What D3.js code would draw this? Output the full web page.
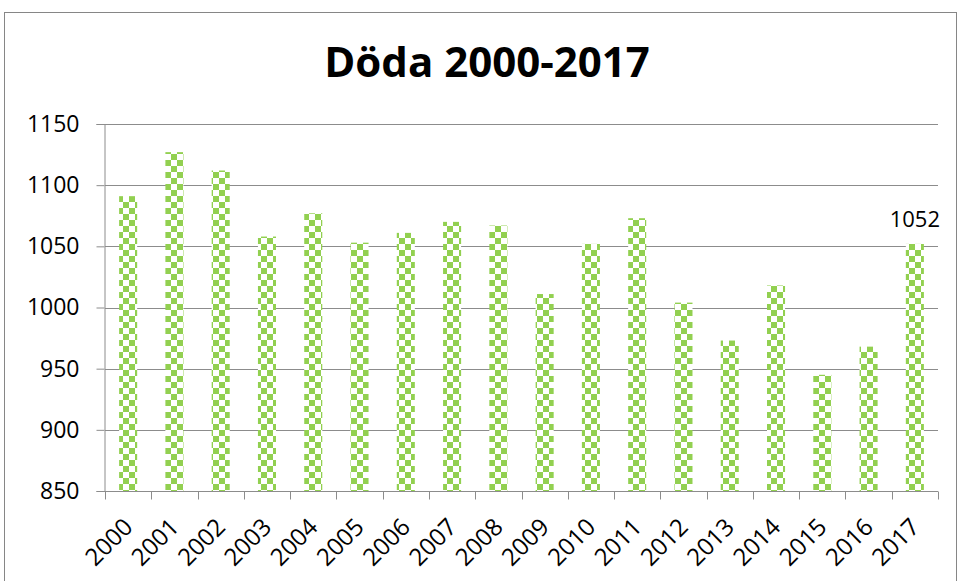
<!DOCTYPE html>
<html>
<head>
<meta charset="utf-8">
<script src="https://cdn.jsdelivr.net/npm/d3@7"></script>
<style>
  body { margin: 0; background: #fff; }
  text { font-family: "Open Sans", sans-serif; fill: #000; }
</style>
</head>
<body>
<svg id="chart"></svg>
<script>
const years = ["2000","2001","2002","2003","2004","2005","2006","2007","2008",
  "2009","2010","2011","2012","2013","2014","2015","2016","2017"];
const deaths = [1091,1127,1112,1058,1077,1053,1061,1070,1067,
  1011,1052,1073,1004,973,1018,945,968,1052];
const yTicks = [850,900,950,1000,1050,1100,1150];
const titleText = "Döda 2000-2017";

const W = 960, H = 581;
const margin = { top: 124, right: 22, bottom: 90, left: 105 },
  width = W - margin.left - margin.right,
  height = H - margin.top - margin.bottom;

const root = d3.select("#chart").attr("width", W).attr("height", H);

// checker pattern like the excel fill
const defs = root.append("defs");
const pat = defs.append("pattern")
    .attr("id", "checker")
    .attr("patternUnits", "userSpaceOnUse")
    .attr("width", 12).attr("height", 12);
pat.append("rect").attr("width", 12).attr("height", 12).attr("fill", "#fff");
pat.append("rect").attr("x", 0).attr("y", 0).attr("width", 6).attr("height", 6).attr("fill", "#92d050");
pat.append("rect").attr("x", 6).attr("y", 6).attr("width", 6).attr("height", 6).attr("fill", "#92d050");

// chart border
root.append("rect")
    .attr("x", 4.5).attr("y", 12.5)
    .attr("width", 952).attr("height", 620)
    .attr("fill", "none")
    .attr("stroke", "#868686");

root.append("text")
    .attr("x", 487).attr("y", 77)
    .attr("text-anchor", "middle")
    .style("font-size", "42px")
    .style("font-weight", "bold")
    .text(titleText);

const svg = root.append("g")
    .attr("transform", "translate(" + margin.left + "," + margin.top + ")");

const x = d3.scaleBand()
    .domain(years)
    .range([0, width])
    .paddingInner(0.61)
    .paddingOuter(0.305);

const y = d3.scaleLinear()
    .domain([850, 1150])
    .range([height, 0]);

// gridlines
svg.append("g")
  .selectAll("line")
  .data(yTicks.slice(1))
  .join("line")
    .attr("x1", 0).attr("x2", width)
    .attr("y1", d => Math.round(y(d)) + 0.5)
    .attr("y2", d => Math.round(y(d)) + 0.5)
    .attr("stroke", "#8c8c8c");

// bars
svg.append("g")
  .selectAll("rect")
  .data(deaths)
  .join("rect")
    .attr("x", (d, i) => x(years[i]))
    .attr("y", d => y(d))
    .attr("width", x.bandwidth())
    .attr("height", d => height - y(d))
    .attr("fill", "url(#checker)");

// y axis
const yAxis = svg.append("g")
    .attr("transform", "translate(-0.5,0)")
    .call(d3.axisLeft(y).tickValues(yTicks).tickFormat(d3.format("d")).tickSize(8).tickPadding(17));
yAxis.selectAll("path, line").attr("stroke", "#8c8c8c");
yAxis.selectAll("text")
    .style("font-size", "23px")
    .style("font-family", "Open Sans, sans-serif")
    .attr("fill", "#000");

// x axis with ticks between categories
const bandStep = width / years.length;
const xAxisG = svg.append("g")
    .attr("transform", "translate(0," + (height + 0.5) + ")");
xAxisG.append("line")
    .attr("x1", 0).attr("x2", width)
    .attr("stroke", "#8c8c8c");
xAxisG.selectAll("line.tick")
  .data(d3.range(years.length + 1))
  .join("line")
    .attr("class", "tick")
    .attr("x1", i => Math.round(i * bandStep) + 0.5)
    .attr("x2", i => Math.round(i * bandStep) + 0.5)
    .attr("y1", 0).attr("y2", 8)
    .attr("stroke", "#8c8c8c");
xAxisG.selectAll("text")
  .data(years)
  .join("text")
    .attr("text-anchor", "end")
    .attr("transform", d => "translate(" + (x(d) + x.bandwidth() / 2 + 6) + ",37) rotate(-45)")
    .style("font-size", "24px")
    .text(d => d);

// data label on last bar
const last = years.length - 1;
svg.append("text")
    .attr("x", x(years[last]) + x.bandwidth() / 2)
    .attr("y", y(deaths[last]) - 17)
    .attr("text-anchor", "middle")
    .style("font-size", "22px")
    .text(deaths[last]);
</script>
</body>
</html>
